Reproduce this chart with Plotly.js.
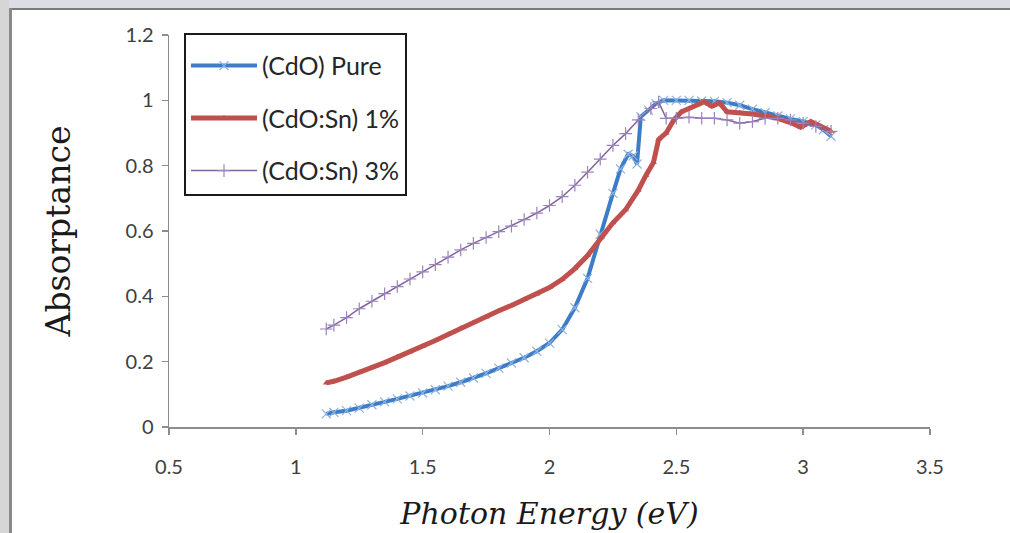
<!DOCTYPE html>
<html>
<head>
<meta charset="utf-8">
<script src="https://cdn.plot.ly/plotly-3.0.1.min.js"></script>
<style>
  html, body { margin: 0; padding: 0; background: #ffffff; }
  #wrap { position: relative; width: 1010px; height: 533px; overflow: hidden; background: #ffffff; }
  #topstrip { position: absolute; left: 0; top: 0; width: 1010px; height: 8px; background: #dcdce4; }
  #leftstrip { position: absolute; left: 0; top: 0; width: 9px; height: 533px; background: #d6d6d6; }
  #frameTop { position: absolute; left: 9px; top: 8px; width: 1001px; height: 2px; background: #7a7a7a; }
  #frameLeft { position: absolute; left: 9px; top: 8px; width: 3px; height: 525px; background: #8a8a8a; }
  #chart { position: absolute; left: 0; top: 0; width: 1010px; height: 533px; }
</style>
</head>
<body>
<div id="wrap">
  <div id="topstrip"></div>
  <div id="leftstrip"></div>
  <div id="frameTop"></div>
  <div id="frameLeft"></div>
  <div id="chart"></div>
</div>
<script>
// ---- Data ----
const seriesNames = ["(CdO) Pure", "(CdO:Sn) 1%", "(CdO:Sn) 3%"];

const pureX = [1.12, 1.15, 1.20, 1.25, 1.30, 1.35, 1.40, 1.45, 1.50, 1.55, 1.60, 1.65, 1.70, 1.75, 1.80, 1.85, 1.90, 1.95, 2.00, 2.05, 2.10, 2.15, 2.20, 2.25, 2.28, 2.31, 2.33, 2.345, 2.36, 2.39, 2.42, 2.45, 2.50, 2.55, 2.60, 2.65, 2.70, 2.75, 2.80, 2.85, 2.90, 2.95, 3.00, 3.05, 3.08, 3.11];
const pureY = [0.040, 0.045, 0.050, 0.058, 0.068, 0.077, 0.086, 0.095, 0.104, 0.114, 0.125, 0.137, 0.150, 0.164, 0.180, 0.196, 0.212, 0.232, 0.257, 0.298, 0.365, 0.455, 0.590, 0.715, 0.790, 0.835, 0.830, 0.805, 0.950, 0.970, 0.990, 1.000, 1.000, 1.000, 0.998, 0.997, 0.993, 0.985, 0.973, 0.962, 0.952, 0.943, 0.935, 0.925, 0.910, 0.890];

const sn1X = [1.12, 1.15, 1.20, 1.25, 1.30, 1.35, 1.40, 1.45, 1.50, 1.55, 1.60, 1.65, 1.70, 1.75, 1.80, 1.85, 1.90, 1.95, 2.00, 2.05, 2.10, 2.15, 2.20, 2.25, 2.30, 2.35, 2.38, 2.41, 2.43, 2.46, 2.49, 2.52, 2.55, 2.58, 2.61, 2.64, 2.67, 2.70, 2.75, 2.80, 2.85, 2.90, 2.95, 2.99, 3.03, 3.07, 3.11];
const sn1Y = [0.135, 0.140, 0.153, 0.167, 0.182, 0.197, 0.214, 0.230, 0.247, 0.265, 0.283, 0.302, 0.320, 0.337, 0.356, 0.372, 0.390, 0.407, 0.427, 0.452, 0.485, 0.525, 0.578, 0.625, 0.665, 0.725, 0.770, 0.810, 0.880, 0.900, 0.940, 0.965, 0.975, 0.985, 0.996, 0.982, 0.992, 0.965, 0.962, 0.958, 0.952, 0.945, 0.932, 0.918, 0.935, 0.920, 0.905];

const sn3X = [1.12, 1.15, 1.20, 1.25, 1.30, 1.35, 1.40, 1.45, 1.50, 1.55, 1.60, 1.65, 1.70, 1.75, 1.80, 1.85, 1.90, 1.95, 2.00, 2.05, 2.10, 2.15, 2.20, 2.25, 2.30, 2.35, 2.40, 2.43, 2.46, 2.50, 2.55, 2.60, 2.65, 2.70, 2.75, 2.80, 2.85, 2.90, 2.95, 3.00, 3.05, 3.11];
const sn3Y = [0.300, 0.312, 0.335, 0.362, 0.385, 0.408, 0.430, 0.453, 0.475, 0.497, 0.520, 0.542, 0.562, 0.580, 0.598, 0.615, 0.635, 0.655, 0.678, 0.705, 0.740, 0.780, 0.820, 0.862, 0.898, 0.940, 0.975, 0.995, 0.945, 0.945, 0.948, 0.945, 0.945, 0.940, 0.930, 0.935, 0.945, 0.945, 0.940, 0.930, 0.920, 0.905];

const xTickVals = [0.5, 1, 1.5, 2, 2.5, 3, 3.5];
const yTickVals = [0, 0.2, 0.4, 0.6, 0.8, 1, 1.2];
const yTickText = ["0", "0.2", "0.4", "0.6", "0.8", "1", "1.2"];

const traces = [
  {
    x: pureX, y: pureY, name: seriesNames[0], type: "scatter", mode: "lines+markers",
    legendgroup: "a",
    line: { color: "#3d7cc6", width: 4 },
    marker: { symbol: "x-thin", size: 9, color: "#8db3e2", line: { color: "#8db3e2", width: 1.2 } }
  },
  {
    x: sn1X, y: sn1Y, name: seriesNames[1], type: "scatter", mode: "lines+markers",
    legendgroup: "b",
    line: { color: "#c0504d", width: 5 },
    marker: { symbol: "triangle-up", size: 6, color: "#c0504d" }
  },
  {
    x: sn3X, y: sn3Y, name: seriesNames[2], type: "scatter", mode: "lines+markers",
    legendgroup: "c",
    line: { color: "#8064a2", width: 1.5 },
    marker: { symbol: "cross-thin", size: 9, color: "#9a84bb", line: { color: "#9a84bb", width: 1.2 } }
  }
];

const axisColor = "#8c8c8c";
const tickFont = { family: "Lato, 'Open Sans', sans-serif", size: 20, color: "#404040" };

const layout = {
  width: 1010, height: 533,
  margin: { l: 169, r: 80, t: 35, b: 106 },
  paper_bgcolor: "rgba(0,0,0,0)",
  plot_bgcolor: "#ffffff",
  showlegend: true,
  legend: {
    x: (184 - 169) / 761, y: 1.005, xanchor: "left", yanchor: "top",
    bgcolor: "#ffffff", bordercolor: "#1a1a1a", borderwidth: 2,
    font: { family: "Lato, 'Open Sans', sans-serif", size: 25, color: "#262626" },
    tracegroupgap: 17, itemwidth: 66,
    title: { text: " ", font: { size: 6 } }
  },
  xaxis: {
    range: [0.5, 3.5], tickvals: xTickVals, ticktext: xTickVals.map(String),
    showgrid: false, zeroline: false, showline: true, linecolor: axisColor, linewidth: 1.5,
    ticks: "outside", ticklen: 6, tickcolor: axisColor, tickwidth: 1.5,
    tickfont: tickFont, ticklabelstandoff: 15,
    title: { text: "Photon Energy (eV)", standoff: 26,
      font: { family: "'DejaVu Serif', serif", size: 30, color: "#1a1a1a", style: "italic" } }
  },
  yaxis: {
    range: [0, 1.2], tickvals: yTickVals, ticktext: yTickText,
    showgrid: false, zeroline: false, showline: true, linecolor: axisColor, linewidth: 1.5,
    ticks: "outside", ticklen: 6, tickcolor: axisColor, tickwidth: 1.5,
    tickfont: tickFont, ticklabelstandoff: 4,
    title: { text: "Absorptance", standoff: 45,
      font: { family: "'DejaVu Serif', serif", size: 33, color: "#1a1a1a" } }
  }
};

Plotly.newPlot("chart", traces, layout, { displayModeBar: false, staticPlot: true });
</script>
</body>
</html>
